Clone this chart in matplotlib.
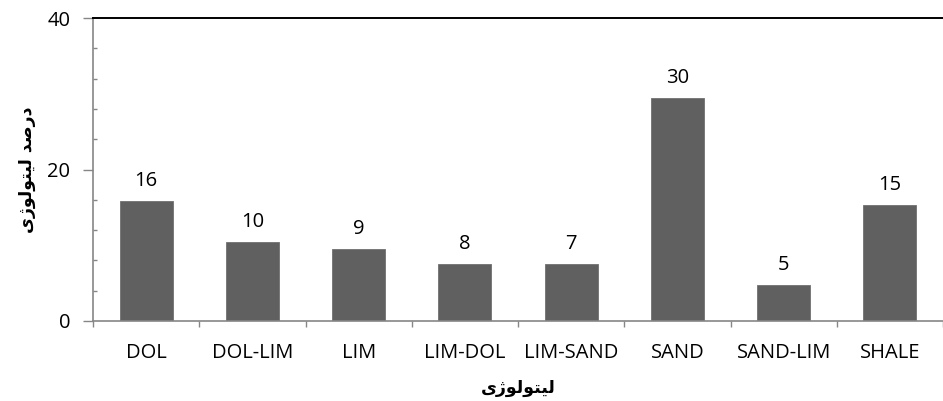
import matplotlib
matplotlib.use("Agg")
import matplotlib.pyplot as plt
from matplotlib.ticker import MultipleLocator, FixedLocator

categories = ["DOL", "DOL-LIM", "LIM", "LIM-DOL", "LIM-SAND", "SAND", "SAND-LIM", "SHALE"]
values = [15.8, 10.4, 9.5, 7.5, 7.5, 29.5, 4.7, 15.35]
value_labels = ["16", "10", "9", "8", "7", "30", "5", "15"]
y_ticks = [0, 20, 40]

# Arabic text in presentation forms (visual order) so it renders joined without a shaper
x_title = "\uFBFC\uFB8A\uFEEE\uFEDF\uFEEE\uFE98\uFBFF\uFEDF"          # لیتولوژی
y_title = x_title + " " + "\uFEAA\uFEBB\uFEAD\uFEA9"                  # درصد لیتولوژی

plt.rcParams['font.family'] = ['Open Sans', 'DejaVu Sans']

fig = plt.figure(figsize=(9.43, 4.01), dpi=100)
ax = fig.add_axes([93 / 943, 80 / 401, 850 / 943, 303 / 401])

x = list(range(len(categories)))
ax.bar(x, values, width=0.5, color="#606060", edgecolor="#707070", linewidth=0.6, zorder=2)

ax.set_xlim(-0.5, len(categories) - 0.5)
ax.set_ylim(0, 40)

ax.set_xticks(x)
ax.set_xticklabels(categories)
ax.xaxis.set_minor_locator(FixedLocator([i - 0.5 for i in range(len(categories) + 1)]))
ax.tick_params(axis='x', which='major', length=0, pad=16, labelsize=14.5)
ax.tick_params(axis='x', which='minor', length=4, width=1, color='#868686', direction='out')

ax.set_yticks(y_ticks)
ax.yaxis.set_minor_locator(MultipleLocator(4))
ax.tick_params(axis='y', which='major', length=7.2, width=1, color='#868686', direction='out',
               pad=9, labelsize=14.5)
ax.tick_params(axis='y', which='minor', length=3, width=1, color='#868686', direction='in')

for side in ['left', 'bottom']:
    ax.spines[side].set_color('#868686')
    ax.spines[side].set_linewidth(1.2)
ax.spines['right'].set_visible(False)
ax.spines['top'].set_color('black')
ax.spines['top'].set_linewidth(1.4)

for xi, v, lbl in zip(x, values, value_labels):
    ax.annotate(lbl, (xi, v), xytext=(0, 10.8), textcoords='offset points',
                ha='center', va='baseline', fontsize=14.5)

fig.text(518 / 943, 1 - 388 / 401, x_title, ha='center', va='center',
         fontsize=12.5, fontweight='bold', family=['DejaVu Sans'])
fig.text(27 / 943, 1 - 170 / 401, y_title, ha='center', va='center', rotation=90,
         fontsize=12.5, fontweight='bold', family=['DejaVu Sans'])

fig.savefig("out.png", dpi=100)
